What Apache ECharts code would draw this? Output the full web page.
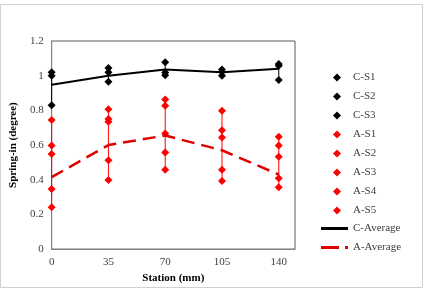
<!DOCTYPE html>
<html>
<head>
<meta charset="utf-8">
<script src="https://cdn.jsdelivr.net/npm/echarts@6/dist/echarts.min.js"></script>
<style>
  html, body { margin: 0; padding: 0; background: #fff; }
  #chart { width: 428px; height: 289px; }
</style>
</head>
<body>
<div id="chart"></div>
<script>
// station positions (mm)
var stations = [0, 35, 70, 105, 140];

// C specimens, spring-in (degree)
var cS1 = [1.02, 1.045, 1.078, 1.036, 1.068];
var cS2 = [1.00, 1.02, 1.018, 1.021, 1.058];
var cS3 = [0.83, 0.965, 1.003, 0.999, 0.975];

// A specimens
var aS1 = [0.745, 0.807, 0.862, 0.798, 0.648];
var aS2 = [0.597, 0.75, 0.826, 0.685, 0.597];
var aS3 = [0.548, 0.735, 0.667, 0.643, 0.532];
var aS4 = [0.347, 0.512, 0.557, 0.457, 0.409];
var aS5 = [0.241, 0.398, 0.457, 0.393, 0.356];

// averages as plotted
var cAverage = [0.948, 1.0, 1.036, 1.02, 1.04];
var aAverage = [0.415, 0.60, 0.655, 0.57, 0.43];

var xTicks = { min: 0, max: 150, interval: 35 };
var yTicks = { min: 0, max: 1.2, interval: 0.2 };

var RED = '#ff0000';
var FONT = 'Liberation Serif';

function pairs(vals) {
    return stations.map(function (s, i) { return [s, vals[i]]; });
}

// min / max per station, for the vertical connecting lines
function ranges(groups) {
    return stations.map(function (s, i) {
        var v = groups.map(function (g) { return g[i]; });
        return [s, Math.min.apply(null, v), Math.max.apply(null, v)];
    });
}

function rangeSeries(name, groups, color) {
    return {
        name: name,
        type: 'custom',
        data: ranges(groups),
        encode: { x: 0, y: [1, 2] },
        z: 1,
        renderItem: function (params, api) {
            var p1 = api.coord([api.value(0), api.value(1)]);
            var p2 = api.coord([api.value(0), api.value(2)]);
            return {
                type: 'line',
                shape: { x1: p1[0], y1: p1[1], x2: p2[0], y2: p2[1] },
                style: { stroke: color, lineWidth: 1 }
            };
        }
    };
}

function scatter(name, vals, color) {
    return {
        name: name,
        type: 'scatter',
        data: pairs(vals),
        symbol: 'diamond',
        symbolSize: 8,
        itemStyle: { color: color, opacity: 1 },
        z: 3
    };
}

var cGroups = [cS1, cS2, cS3];
var aGroups = [aS1, aS2, aS3, aS4, aS5];

var series = [
    rangeSeries('C-range', cGroups, '#000'),
    rangeSeries('A-range', aGroups, RED),
    scatter('C-S1', cS1, '#000'),
    scatter('C-S2', cS2, '#000'),
    scatter('C-S3', cS3, '#000'),
    scatter('A-S1', aS1, RED),
    scatter('A-S2', aS2, RED),
    scatter('A-S3', aS3, RED),
    scatter('A-S4', aS4, RED),
    scatter('A-S5', aS5, RED),
    {
        name: 'C-Average',
        type: 'line',
        data: pairs(cAverage),
        symbol: 'none',
        lineStyle: { color: '#000', width: 2 },
        itemStyle: { color: '#000' },
        z: 4
    },
    {
        name: 'A-Average',
        type: 'line',
        data: pairs(aAverage),
        symbol: 'none',
        lineStyle: { color: '#e00000', width: 2.5, type: [13, 7] },
        itemStyle: { color: '#e00000' },
        z: 4
    }
];

var legendText = { fontFamily: FONT, fontSize: 11, color: '#404040' };

var myChart = echarts.init(document.getElementById('chart'), null, { renderer: 'canvas' });

var option = {
    animation: false,
    textStyle: { fontFamily: FONT, color: '#404040' },
    graphic: [{
        type: 'rect',
        shape: { x: 0.5, y: 4.5, width: 422, height: 283 },
        style: { fill: 'none', stroke: '#d0d0d0', lineWidth: 1 },
        silent: true
    }],
    grid: {
        left: 51, right: 133, top: 41, bottom: 30,
        show: true,
        borderColor: '#595959',
        borderWidth: 1
    },
    legend: [{
        // marker entries
        orient: 'vertical',
        left: 328,
        top: 67,
        itemWidth: 8,
        itemHeight: 8,
        itemGap: 8,
        icon: 'diamond',
        data: ['C-S1', 'C-S2', 'C-S3', 'A-S1', 'A-S2', 'A-S3', 'A-S4', 'A-S5'],
        textStyle: Object.assign({ padding: [0, 0, 0, 7] }, legendText)
    }, {
        // line entries
        orient: 'vertical',
        left: 316,
        top: 218,
        itemWidth: 27,
        itemHeight: 3,
        itemGap: 8,
        data: [
            { name: 'C-Average', icon: 'path://M0,0h27v3h-27z' },
            { name: 'A-Average', icon: 'path://M0,0h18v3h-18z M24,0h3v3h-3z' }
        ],
        textStyle: legendText
    }],
    xAxis: {
        type: 'value',
        min: xTicks.min,
        max: xTicks.max,
        interval: xTicks.interval,
        name: 'Station (mm)',
        nameLocation: 'middle',
        nameGap: 19,
        nameTextStyle: { fontFamily: FONT, fontSize: 11, fontWeight: 'bold', color: '#000' },
        splitLine: { show: false },
        axisTick: { show: false },
        axisLine: { lineStyle: { color: '#808080' } },
        axisLabel: {
            fontFamily: FONT, fontSize: 11, color: '#404040', margin: 8,
            formatter: function (v) { return v % xTicks.interval === 0 ? String(v) : ''; }
        }
    },
    yAxis: {
        type: 'value',
        min: yTicks.min,
        max: yTicks.max,
        interval: yTicks.interval,
        name: 'Spring-in (degree)',
        nameLocation: 'middle',
        nameGap: 28,
        nameTextStyle: { fontFamily: FONT, fontSize: 11, fontWeight: 'bold', color: '#000' },
        splitLine: { show: false },
        axisTick: { show: false },
        axisLine: { show: true, lineStyle: { color: '#808080' } },
        axisLabel: {
            fontFamily: FONT, fontSize: 11, color: '#404040', margin: 8,
            formatter: function (v) { return String(Math.round(v * 10) / 10); }
        }
    },
    series: series
};

option && myChart.setOption(option);
</script>
</body>
</html>
